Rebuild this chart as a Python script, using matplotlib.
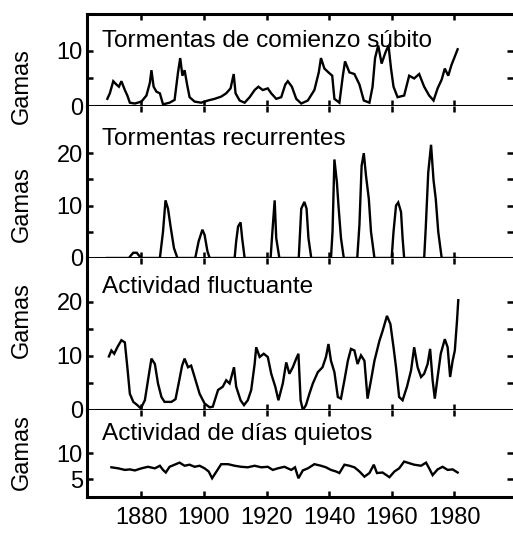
import matplotlib
matplotlib.use("Agg")
import matplotlib.pyplot as plt

plt.rcParams['font.family'] = ['Liberation Sans', 'DejaVu Sans']

# Tormentas de comienzo subito
years_sc = [1869.1, 1869.9, 1871.0, 1872.0, 1872.8, 1873.6, 1874.7, 1875.5, 1876.3, 1877.9,
            1880.0, 1881.6, 1882.7, 1883.2, 1883.9, 1884.8, 1885.9, 1886.9, 1889.0, 1890.6,
            1891.7, 1892.4, 1893.1, 1893.8, 1894.6, 1895.4, 1897.0, 1899.1, 1901.3, 1903.4,
            1905.5, 1907.1, 1908.5, 1909.5, 1910.1, 1911.4, 1913.0, 1914.6, 1916.2, 1917.4,
            1918.8, 1920.4, 1921.5, 1923.1, 1924.7, 1926.0, 1926.8, 1928.1, 1929.5, 1931.1,
            1933.2, 1935.3, 1936.7, 1937.4, 1938.5, 1939.8, 1941.0, 1941.7, 1943.3, 1944.4,
            1945.1, 1946.5, 1948.1, 1949.7, 1951.1, 1952.9, 1953.9, 1954.7, 1955.7, 1956.8,
            1958.0, 1959.0, 1959.8, 1960.6, 1961.9, 1964.0, 1965.6, 1967.2, 1968.8, 1970.4,
            1972.0, 1973.4, 1974.7, 1976.0, 1977.0, 1978.1, 1979.1, 1980.0, 1981.1]
vals_sc = [1.3, 2.3, 4.5, 3.9, 3.5, 4.5, 2.9, 1.9, 0.6, 0.45,
           0.8, 1.9, 4.2, 6.5, 3.5, 2.6, 2.3, 0.3, 0.6, 1.1,
           6.1, 8.7, 5.5, 6.5, 3.9, 1.6, 0.8, 0.6, 1.0, 1.3,
           1.7, 2.3, 3.2, 5.8, 2.3, 1.0, 0.6, 1.6, 2.9, 3.5,
           2.9, 3.2, 2.3, 1.3, 1.6, 3.9, 4.5, 3.5, 1.3, 0.45,
           1.0, 2.9, 6.1, 8.7, 6.8, 6.1, 5.5, 1.3, 0.6, 5.5,
           8.1, 6.1, 5.8, 3.9, 1.0, 0.6, 3.5, 8.7, 11.0, 7.7,
           9.7, 11.0, 6.8, 3.5, 1.6, 1.9, 5.5, 5.0, 5.8, 3.5,
           1.9, 1.0, 3.2, 4.8, 6.8, 5.5, 7.4, 8.7, 10.3]

# Tormentas recurrentes
years_rec = [1869.0, 1876.0, 1876.8, 1877.4, 1878.5, 1879.3, 1880.0, 1885.9, 1886.9, 1887.7,
             1888.5, 1889.4, 1890.4, 1891.5, 1897.2, 1898.3, 1899.5, 1900.2, 1901.1, 1901.8,
             1909.8, 1910.3, 1910.9, 1911.7, 1912.2, 1913.0, 1921.3, 1921.8, 1922.6, 1923.1,
             1924.1, 1930.3, 1931.1, 1932.1, 1932.8, 1933.4, 1934.3, 1940.6, 1941.1, 1941.7,
             1942.5, 1943.0, 1943.8, 1944.7, 1949.0, 1949.7, 1950.4, 1951.1, 1951.8, 1952.7,
             1953.4, 1954.5, 1960.0, 1960.6, 1961.4, 1962.1, 1963.0, 1963.5, 1964.0, 1970.4,
             1970.9, 1971.7, 1972.6, 1973.4, 1974.1, 1974.9, 1976.0, 1981.0]
vals_rec = [0, 0, 0.6, 1.0, 1.0, 0.4, 0, 0, 5.0, 11.0,
            9.4, 5.7, 1.9, 0, 0, 3.2, 5.4, 4.4, 1.3, 0,
            0, 3.2, 6.0, 6.8, 3.8, 0, 0, 4.4, 11.0, 3.8,
            0, 0, 9.4, 10.7, 9.4, 3.8, 0, 0, 5.0, 18.8,
            14.4, 10.0, 3.8, 0, 0, 6.3, 17.6, 20.0, 15.7, 11.3,
            5.0, 0, 0, 5.0, 10.0, 10.6, 8.8, 3.8, 0, 0,
            5.7, 16.3, 21.6, 14.8, 11.3, 5.0, 0, 0]

# Actividad fluctuante
years_fl = [1869.6, 1870.4, 1871.3, 1872.3, 1873.6, 1874.7, 1875.5, 1876.3, 1877.4, 1878.7,
            1879.8, 1881.1, 1882.1, 1883.2, 1884.3, 1885.3, 1886.4, 1887.4, 1889.6, 1890.9,
            1891.9, 1893.0, 1893.8, 1894.9, 1895.9, 1897.0, 1898.6, 1900.2, 1901.8, 1902.8,
            1904.5, 1906.0, 1907.1, 1908.2, 1909.6, 1910.3, 1911.7, 1912.8, 1914.0, 1915.1,
            1916.2, 1916.7, 1917.8, 1919.1, 1920.4, 1921.5, 1922.8, 1923.8, 1925.2, 1926.3,
            1927.3, 1928.4, 1929.5, 1930.2, 1930.9, 1931.6, 1932.6, 1933.7, 1934.8, 1936.4,
            1937.9, 1939.0, 1939.8, 1940.6, 1941.7, 1942.8, 1943.8, 1944.9, 1946.0, 1947.0,
            1948.1, 1949.1, 1950.2, 1951.3, 1952.3, 1953.4, 1954.5, 1956.1, 1957.1, 1958.5,
            1959.6, 1960.6, 1961.4, 1962.4, 1963.5, 1964.9, 1966.2, 1967.2, 1968.3, 1969.4,
            1970.4, 1971.5, 1972.3, 1973.1, 1973.8, 1974.7, 1975.7, 1977.0, 1977.9, 1978.7,
            1979.5, 1980.2, 1980.9, 1981.3]
vals_fl = [9.9, 11.0, 10.4, 11.6, 12.9, 12.5, 7.9, 3.0, 1.5, 0.9,
           0.3, 1.8, 5.5, 9.5, 8.5, 4.9, 2.4, 1.5, 1.5, 2.0,
           4.9, 8.2, 9.5, 7.9, 8.2, 6.1, 3.0, 1.2, 0.5, 0.6,
           3.7, 4.3, 5.5, 4.9, 7.9, 4.3, 1.8, 0.9, 1.8, 3.7,
           8.5, 11.6, 9.8, 10.4, 9.8, 6.7, 4.3, 1.8, 4.9, 8.8,
           6.7, 7.9, 9.5, 10.4, 1.8, 0.0, 0.9, 3.0, 4.9, 7.0,
           7.9, 9.8, 12.2, 9.1, 7.0, 2.4, 2.1, 5.5, 9.1, 11.3,
           11.0, 8.5, 10.1, 9.1, 2.1, 5.5, 9.1, 12.8, 14.6, 17.4,
           15.9, 11.6, 7.9, 2.4, 1.8, 4.3, 7.3, 11.6, 7.9, 6.1,
           6.7, 8.5, 11.3, 5.5, 2.1, 6.1, 10.4, 13.1, 11.6, 6.1,
           9.1, 11.0, 16.5, 20.3]

# Actividad de dias quietos
years_q = [1870.4, 1872.6, 1874.7, 1876.3, 1877.9, 1880.0, 1882.1, 1884.3, 1885.9, 1886.9,
           1887.8, 1889.0, 1890.6, 1892.2, 1893.8, 1895.4, 1897.0, 1898.6, 1900.2, 1901.5,
           1902.6, 1904.0, 1905.5, 1907.7, 1909.8, 1911.9, 1914.0, 1916.2, 1918.3, 1920.4,
           1922.0, 1923.6, 1925.7, 1927.9, 1929.1, 1930.2, 1931.6, 1933.2, 1935.3, 1937.4,
           1939.0, 1940.6, 1942.2, 1943.3, 1944.9, 1946.5, 1948.1, 1949.7, 1951.3, 1952.9,
           1954.3, 1955.3, 1957.1, 1959.3, 1960.9, 1962.4, 1964.0, 1965.6, 1967.2, 1969.4,
           1971.0, 1972.0, 1973.1, 1974.7, 1976.3, 1977.9, 1979.5, 1981.1]
vals_q = [7.3, 7.1, 6.8, 6.9, 6.7, 7.1, 7.4, 7.1, 7.6, 6.8,
          6.3, 7.4, 7.8, 8.2, 7.6, 7.8, 7.4, 7.6, 7.1, 6.5,
          5.2, 6.5, 7.9, 7.9, 7.6, 7.4, 7.3, 7.6, 7.3, 7.4,
          6.8, 7.1, 7.4, 6.8, 7.3, 5.2, 6.7, 7.1, 7.9, 7.6,
          7.3, 6.8, 6.5, 6.2, 7.8, 7.6, 7.3, 6.5, 5.5, 6.2,
          7.8, 6.2, 6.3, 5.4, 6.5, 7.1, 8.4, 8.1, 7.8, 7.6,
          8.2, 7.1, 5.8, 6.9, 7.4, 6.8, 6.9, 6.3]

titles = ["Tormentas de comienzo súbito", "Tormentas recurrentes",
          "Actividad fluctuante", "Actividad de días quietos"]
x_ticks = [1880, 1900, 1920, 1940, 1960, 1980]

W, H = 513, 533
fig = plt.figure(figsize=(W / 100, H / 100), dpi=100)

# panel geometry in pixels: (top, bottom)
panels = [(14, 106), (106, 258), (258, 410), (410, 497)]
ylims = [(0, 16.7), (0, 29.0), (0, 28.1), (1.6, 18.3)]
major = [[0, 10], [0, 10, 20], [0, 10, 20], [5, 10]]
minor = [[5], [5, 15], [5, 15], []]
text_base = [47, 145, 293, 440]
label_center = [86, 204, 320, 452]
series = [(years_sc, vals_sc), (years_rec, vals_rec), (years_fl, vals_fl), (years_q, vals_q)]

left_px, right_px = 87, 513
for i, (top, bot) in enumerate(panels):
    ax = fig.add_axes([left_px / W, 1 - bot / H, (right_px - left_px) / W, (bot - top) / H])
    x, y = series[i]
    ax.plot(x, y, color='black', linewidth=1.7, solid_joinstyle='miter')
    ax.set_xlim(1862.6, 1998.8)
    ax.set_ylim(*ylims[i])

    for side in ['left', 'top', 'bottom']:
        ax.spines[side].set_linewidth(2.2)
    ax.spines['right'].set_visible(False)
    if i > 0:
        ax.spines['top'].set_visible(False)

    ax.set_yticks(major[i])
    ax.set_yticks(minor[i], minor=True)
    ax.set_xticks(x_ticks)
    ax.tick_params(axis='both', which='both', direction='in', length=4, width=1.8,
                   top=True, right=True, labelsize=17, pad=3)
    ax.tick_params(axis='x', which='minor', bottom=False, top=False)
    if i < 3:
        ax.tick_params(axis='x', labelbottom=False)
    else:
        ax.tick_params(axis='x', pad=7)

    h = bot - top
    ax.text((102 - left_px) / (right_px - left_px), (bot - text_base[i]) / h, titles[i],
            transform=ax.transAxes, fontsize=17.6, va='baseline', ha='left')
    ax.set_ylabel("Gamas", fontsize=17)
    ax.yaxis.set_label_coords((33 - left_px) / (right_px - left_px),
                              (bot - label_center[i]) / h)

fig.savefig("out.png", dpi=100)
